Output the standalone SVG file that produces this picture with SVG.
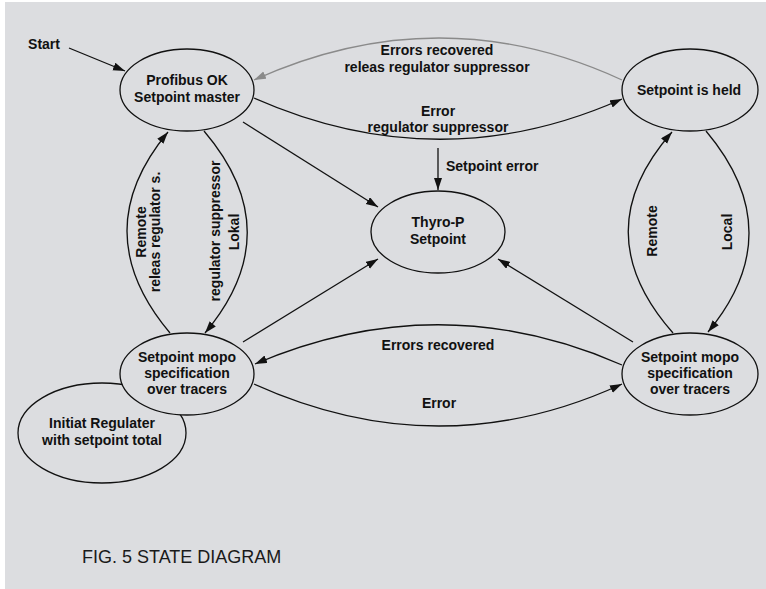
<svg xmlns="http://www.w3.org/2000/svg" width="766" height="589" viewBox="0 0 766 589">
<defs>
<style>
.node{fill:#dcdde0;stroke:#111;stroke-width:1.3}
.t{font-family:"Liberation Sans",Arial,Helvetica,sans-serif;font-weight:bold;font-size:14px;fill:#111;text-anchor:middle}
.e{fill:none;stroke:#111;stroke-width:1.3}
.g{fill:none;stroke:#8a8a8a;stroke-width:1.3}
.title{font-family:"Liberation Sans",Arial,sans-serif;font-size:18px;fill:#1a1a1a}
</style>
<marker id="ah" markerWidth="13" markerHeight="9" refX="12" refY="4" orient="auto" markerUnits="userSpaceOnUse">
<path d="M0,0 L12,4 L0,8 z" fill="#111"/>
</marker>
<marker id="ahg" markerWidth="13" markerHeight="9" refX="12" refY="4" orient="auto" markerUnits="userSpaceOnUse">
<path d="M0,0 L12,4 L0,8 z" fill="#8a8a8a"/>
</marker>
</defs>
<rect x="0" y="0" width="766" height="589" fill="#ffffff"/>
<rect x="5" y="2" width="761" height="587" fill="#dcdde0"/>

<g id="connectors">
<path class="e" d="M69,48 L125,71" marker-end="url(#ah)"/>
<path class="g" d="M622,80 Q440,-4 254,80" marker-end="url(#ahg)"/>
<path class="e" d="M254,98 Q440,180 622,99" marker-end="url(#ah)"/>
<path class="e" d="M438,148 L438,190" marker-end="url(#ah)"/>
<path class="e" d="M243,122 L378,207" marker-end="url(#ah)"/>
<path class="e" d="M170,333 Q85,232 168,132" marker-end="url(#ah)"/>
<path class="e" d="M204,131 Q290,232 205,333" marker-end="url(#ah)"/>
<path class="e" d="M673,333 Q584,232 672,132" marker-end="url(#ah)"/>
<path class="e" d="M706,131 Q791,232 708,332" marker-end="url(#ah)"/>
<path class="e" d="M243,342 L378,259" marker-end="url(#ah)"/>
<path class="e" d="M633,342 L498,259" marker-end="url(#ah)"/>
<path class="e" d="M622,365 Q440,285 255,364" marker-end="url(#ah)"/>
<path class="e" d="M254,384 Q440,468 622,384" marker-end="url(#ah)"/>
<text class="t" x="44" y="49">Start</text>
<text class="t" x="437" y="55">Errors recovered</text>
<text class="t" x="437" y="72">releas regulator suppressor</text>
<text class="t" x="438" y="116">Error</text>
<text class="t" x="438" y="132">regulator suppressor</text>
<text class="t" x="446" y="171" style="text-anchor:start">Setpoint error</text>
<text class="t" transform="translate(146,232) rotate(-90)">Remote</text>
<text class="t" transform="translate(160,232) rotate(-90)">releas regulator s.</text>
<text class="t" transform="translate(220,231) rotate(-90)">regulator suppressor</text>
<text class="t" transform="translate(239,232) rotate(-90)">Lokal</text>
<text class="t" transform="translate(657,231) rotate(-90)">Remote</text>
<text class="t" transform="translate(732,232) rotate(-90)">Local</text>
<text class="t" x="438" y="350">Errors recovered</text>
<text class="t" x="439" y="408">Error</text>
</g>

<g id="profibus">
<ellipse class="node" cx="187" cy="90" rx="67" ry="41"/>
<text class="t" x="187" y="85">Profibus OK</text>
<text class="t" x="187" y="102">Setpoint master</text>
</g>
<g id="held">
<ellipse class="node" cx="690" cy="90" rx="68" ry="41"/>
<text class="t" x="689" y="95">Setpoint is held</text>
</g>
<g id="thyro">
<ellipse class="node" cx="438" cy="232" rx="67" ry="41"/>
<text class="t" x="438" y="227">Thyro-P</text>
<text class="t" x="438" y="244">Setpoint</text>
</g>
<g id="initiat">
<ellipse class="node" cx="102" cy="433" rx="84" ry="50"/>
<text class="t" x="102" y="428">Initiat Regulater</text>
<text class="t" x="102" y="445">with setpoint total</text>
</g>
<g id="mopo-left">
<ellipse class="node" cx="187" cy="374" rx="67" ry="41"/>
<text class="t" x="187" y="362">Setpoint mopo</text>
<text class="t" x="187" y="378">specification</text>
<text class="t" x="187" y="394">over tracers</text>
</g>
<g id="mopo-right">
<ellipse class="node" cx="690" cy="374" rx="68" ry="41"/>
<text class="t" x="690" y="362">Setpoint mopo</text>
<text class="t" x="690" y="378">specification</text>
<text class="t" x="690" y="394">over tracers</text>
</g>
<text class="title" x="82" y="563">FIG. 5 STATE DIAGRAM</text>
</svg>
